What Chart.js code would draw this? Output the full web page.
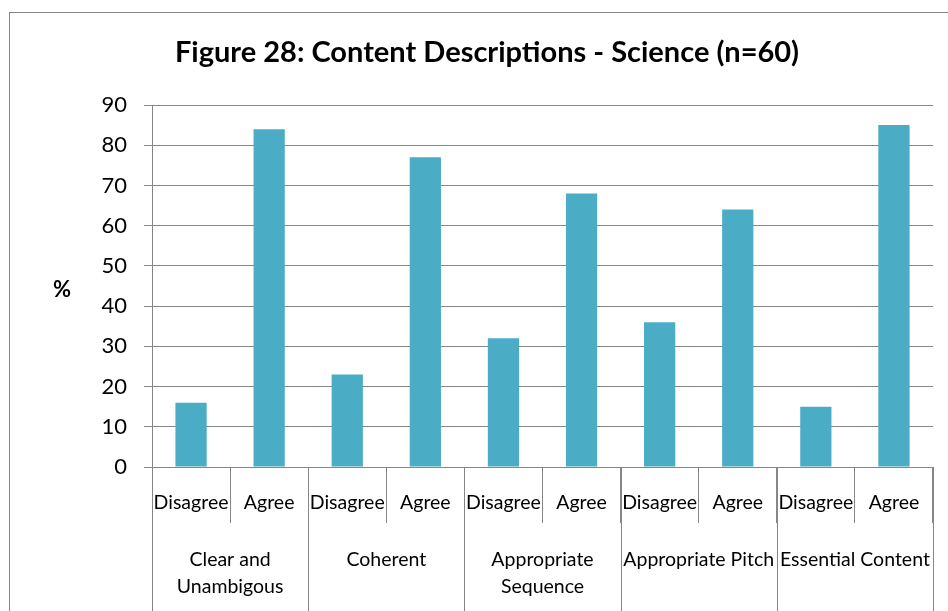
<!DOCTYPE html>
<html>
<head>
<meta charset="utf-8">
<script src="https://cdn.jsdelivr.net/npm/chart.js@4"></script>
<style>
  html, body { margin: 0; padding: 0; background: #fff; }
  #wrap { position: relative; width: 948px; height: 611px; overflow: hidden; }
  #frame { position: absolute; left: 9px; top: 12px; width: 1000px; height: 700px;
           border-left: 1px solid #868686; border-top: 1px solid #868686; }
  canvas { position: absolute; left: 0; top: 0; }
</style>
</head>
<body>
<div id="wrap">
  <div id="frame"></div>
  <canvas id="myChart" width="948" height="611"></canvas>
</div>
<script>
  const chartTitle = 'Figure 28: Content Descriptions - Science (n=60)'
  const responses = ['Disagree', 'Agree', 'Disagree', 'Agree', 'Disagree', 'Agree', 'Disagree', 'Agree', 'Disagree', 'Agree']
  const groups = [['Clear and', 'Unambigous'], ['Coherent'], ['Appropriate', 'Sequence'], ['Appropriate Pitch'], ['Essential Content']]
  const percents = [16, 84, 23, 77, 32, 68, 36, 64, 15, 85]
  const yTicks = [0, 10, 20, 30, 40, 50, 60, 70, 80, 90]

  const FONT = 'Lato, "Open Sans", sans-serif'
  const GRID = '#868686'

  // title, two-level category labels and "%" label
  const groupLabels = {
    id: 'groupLabels',
    afterDraw(chart) {
      const ctx = chart.ctx
      const x = chart.scales.x
      const bottom = chart.chartArea.bottom
      const half = (x.getPixelForValue(1) - x.getPixelForValue(0)) / 2
      ctx.save()
      ctx.fillStyle = '#000'
      ctx.textAlign = 'center'
      ctx.textBaseline = 'middle'
      ctx.font = 'bold 29px ' + FONT
      ctx.fillText(chartTitle, 487, 53)
      ctx.font = '19.5px ' + FONT
      responses.forEach((r, i) => {
        ctx.fillText(r, x.getPixelForValue(i), bottom + 36)
      })
      ctx.strokeStyle = GRID
      ctx.lineWidth = 1
      for (let g = 0; g <= groups.length; g++) {
        const px = Math.round(x.getPixelForValue(g * 2) - half) + 0.5
        ctx.beginPath()
        ctx.moveTo(px, bottom)
        ctx.lineTo(px, 611)
        ctx.stroke()
      }
      groups.forEach((lines, g) => {
        const cx = (x.getPixelForValue(g * 2) + x.getPixelForValue(g * 2 + 1)) / 2
        lines.forEach((t, k) => ctx.fillText(t, cx, bottom + 93 + k * 27))
      })
      ctx.font = 'bold 22px ' + FONT
      ctx.fillText('%', 62, 290)
      ctx.restore()
    }
  }

  const data = {
    labels: responses,
    datasets: [{
      label: '%',
      data: percents,
      backgroundColor: '#4BACC6',
      borderWidth: 0,
      barPercentage: 0.5,
      categoryPercentage: 0.8
    }]
  }

  const config = {
    type: 'bar',
    data,
    plugins: [groupLabels],
    options: {
      responsive: false,
      animation: false,
      layout: { padding: { left: 0, right: 15, top: 105, bottom: 0 } },
      plugins: {
        legend: { display: false },
        tooltip: { enabled: false },
        title: { display: false }
      },
      scales: {
        x: {
          grid: { drawOnChartArea: false, drawTicks: true, tickLength: 56, color: GRID, offset: true },
          border: { color: GRID },
          ticks: { display: false },
          afterFit(scale) { scale.height = 144 }
        },
        y: {
          min: 0,
          max: 90,
          afterBuildTicks(scale) { scale.ticks = yTicks.map(v => ({ value: v })) },
          grid: { color: GRID, tickLength: 8 },
          border: { color: GRID },
          ticks: { color: '#000', padding: 17, font: { family: FONT, size: 22 } },
          afterFit(scale) { scale.width = 152 }
        }
      }
    }
  }

  const myChart = new Chart(document.getElementById('myChart'), config)
</script>
</body>
</html>
